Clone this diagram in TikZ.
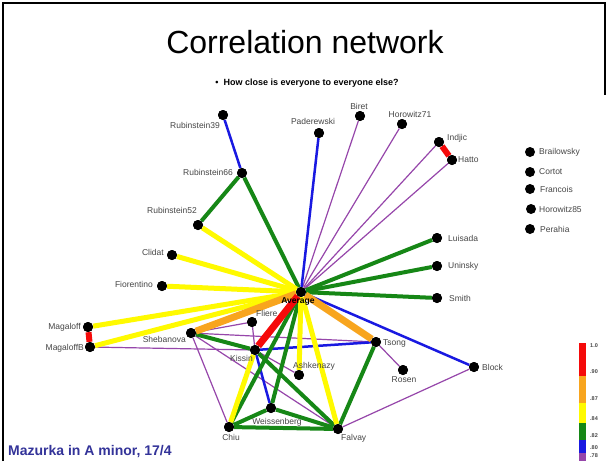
\documentclass[tikz,border=0pt]{standalone}
\usepackage{fontspec}
\setmainfont{Liberation Sans}
\definecolor{cyel}{RGB}{255,250,0}
\definecolor{cgrn}{RGB}{22,135,22}
\definecolor{cred}{RGB}{245,10,10}
\definecolor{corg}{RGB}{248,165,30}
\definecolor{cblu}{RGB}{25,25,225}
\definecolor{cpur}{RGB}{150,70,170}
\definecolor{clab}{RGB}{70,70,70}
\definecolor{cfoot}{RGB}{51,51,153}
\tikzset{
  pt/.style={circle,fill=black,minimum size=10pt,inner sep=0pt},
  lab/.style={font=\fontsize{8.5}{10}\selectfont,text=clab,inner sep=0pt},
  epur/.style={draw=cpur,line width=1.2pt},
  eblu/.style={draw=cblu,line width=2.5pt},
  egrn/.style={draw=cgrn,line width=4pt},
  eyel/.style={draw=cyel,line width=5pt},
  eorg/.style={draw=corg,line width=7pt},
  ered/.style={draw=cred,line width=7pt},
  frame/.style={draw=black,line width=2.5pt}
}
\begin{document}
\begin{tikzpicture}[x=1pt,y=-1pt]
\useasboundingbox (0,0) rectangle (609,461);
\fill[white] (0,0) rectangle (609,461);
% frame
\coordinate (f1) at (3,461);
\coordinate (f2) at (3,3);
\coordinate (f3) at (605,3);
\coordinate (f4) at (605,95);
\draw[frame] (f1) -- (f2) -- (f3) -- (f4);
% title
\node (title) at (305,42) {\fontsize{32}{36}\selectfont Correlation network};
\node (sub) at (307,83) {\fontsize{9}{11}\selectfont\bfseries \textbullet\ \ How close is everyone to everyone else?};
\node[anchor=west,text=cfoot,inner sep=0pt] (foot) at (8,451) {\fontsize{14}{16}\selectfont\bfseries Mazurka in A minor, 17/4};
% nodes
\node[pt] (avg) at (301,292) {};
\node[pt] (r39) at (223,115) {};
\node[pt] (pad) at (319,133) {};
\node[pt] (bir) at (360,116) {};
\node[pt] (h71) at (402,124) {};
\node[pt] (ind) at (439,142) {};
\node[pt] (hat) at (452,160) {};
\node[pt] (r66) at (242,173) {};
\node[pt] (r52) at (198,225) {};
\node[pt] (cli) at (172,255) {};
\node[pt] (fio) at (162,286) {};
\node[pt] (lui) at (437,238) {};
\node[pt] (uni) at (437,266) {};
\node[pt] (smi) at (437,298) {};
\node[pt] (mag) at (88,327) {};
\node[pt] (magb) at (90,347) {};
\node[pt] (she) at (191,333) {};
\node[pt] (fli) at (252,322) {};
\node[pt] (kis) at (255,350) {};
\node[pt] (tso) at (376,342) {};
\node[pt] (ros) at (403,370) {};
\node[pt] (blo) at (474,367) {};
\node[pt] (ash) at (299,375) {};
\node[pt] (wei) at (271,408) {};
\node[pt] (chi) at (229,427) {};
\node[pt] (fal) at (338,429) {};
\node[pt] (bra) at (530,152) {};
\node[pt] (cor) at (530,172) {};
\node[pt] (fra) at (530,189) {};
\node[pt] (h85) at (531,209) {};
\node[pt] (per) at (530,229) {};
% edges
\draw[epur] (avg) -- (bir);
\draw[epur] (avg) -- (h71);
\draw[epur] (avg) -- (ind);
\draw[epur] (avg) -- (hat);
\draw[epur] (magb) -- (kis);
\draw[epur] (she) -- (fli);
\draw[epur] (she) -- (tso);
\draw[epur] (fli) -- (kis);
\draw[epur] (kis) -- (ash);
\draw[epur] (she) -- (chi);
\draw[epur] (she) -- (fal);
\draw[epur] (tso) -- (ros);
\draw[epur] (blo) -- (fal);
\draw[eblu] (r39) -- (r66);
\draw[eblu] (avg) -- (pad);
\draw[eblu] (avg) -- (blo);
\draw[eblu] (kis) -- (tso);
\draw[eblu] (kis) -- (wei);
\draw[egrn] (r66) -- (r52);
\draw[egrn] (r66) -- (avg);
\draw[egrn] (avg) -- (lui);
\draw[egrn] (avg) -- (uni);
\draw[egrn] (avg) -- (smi);
\draw[egrn] (avg) -- (wei);
\draw[egrn] (avg) -- (chi);
\draw[egrn] (she) -- (kis);
\draw[egrn] (kis) -- (fal);
\draw[egrn] (chi) -- (wei);
\draw[egrn] (chi) -- (fal);
\draw[egrn] (wei) -- (fal);
\draw[egrn] (tso) -- (fal);
\draw[eyel] (avg) -- (r52);
\draw[eyel] (avg) -- (cli);
\draw[eyel] (avg) -- (fio);
\draw[eyel] (avg) -- (mag);
\draw[eyel] (avg) -- (magb);
\draw[eyel] (avg) -- (ash);
\draw[eyel] (avg) -- (fal);
\draw[eyel] (kis) -- (chi);
\draw[eorg] (avg) -- (she);
\draw[eorg] (avg) -- (tso);
\draw[ered] (avg) -- (kis);
\draw[ered,line width=6pt] (ind) -- (hat);
\draw[ered,line width=6pt] (mag) -- (magb);
% redraw dots on top
\foreach \n in {avg,r39,pad,bir,h71,ind,hat,r66,r52,cli,fio,lui,uni,smi,mag,magb,she,fli,kis,tso,ros,blo,ash,wei,chi,fal}
  \fill[black] (\n) circle (5pt);
% labels
\node[lab,anchor=east] (lr39) at (220,125) {Rubinstein39};
\node[lab,anchor=east] (lr66) at (233,172) {Rubinstein66};
\node[lab,anchor=east] (lr52) at (197,210) {Rubinstein52};
\node[lab] (lpad) at (313,121) {Paderewski};
\node[lab] (lbir) at (359,106) {Biret};
\node[lab] (lh71) at (410,114) {Horowitz71};
\node[lab,anchor=west] (lind) at (447,138) {Indjic};
\node[lab,anchor=west] (lhat) at (458,160) {Hatto};
\node[lab,anchor=west] (llui) at (448,238) {Luisada};
\node[lab,anchor=west] (luni) at (448,266) {Uninsky};
\node[lab,anchor=west] (lsmi) at (449,298) {Smith};
\node[lab,anchor=east] (lcli) at (164,252) {Clidat};
\node[lab,anchor=east] (lfio) at (153,284) {Fiorentino};
\node[lab,anchor=east] (lmag) at (81,327) {Magaloff};
\node[lab,anchor=east] (lmagb) at (84,348) {MagaloffB};
\node[lab,anchor=east] (lshe) at (186,339) {Shebanova};
\node[lab,anchor=west] (lfli) at (256,313) {Fliere};
\node[lab,anchor=east] (lkis) at (253,358) {Kissin};
\node[lab,text=black,font=\fontsize{8.5}{10}\selectfont\bfseries] (lavg) at (298,301) {Average};
\node[lab,anchor=west] (ltso) at (383,343) {Tsong};
\node[lab] (lros) at (404,380) {Rosen};
\node[lab,anchor=west] (lblo) at (482,367) {Block};
\node[lab] (lash) at (314,366) {Ashkenazy};
\node[lab] (lwei) at (277,422) {Weissenberg};
\node[lab] (lchi) at (231,437) {Chiu};
\node[lab,anchor=west] (lfal) at (341,438) {Falvay};
\node[lab,anchor=west] (lbra) at (539,152) {Brailowsky};
\node[lab,anchor=west] (lcor) at (539,172) {Cortot};
\node[lab,anchor=west] (lfra) at (540,189) {Francois};
\node[lab,anchor=west] (lh85) at (539,209) {Horowitz85};
\node[lab,anchor=west] (lper) at (540,229) {Perahia};
% legend
\fill[cred] (579,343) rectangle (586,376);
\fill[corg] (579,376) rectangle (586,403);
\fill[cyel] (579,403) rectangle (586,423);
\fill[cgrn] (579,423) rectangle (586,440);
\fill[cblu] (579,440) rectangle (586,453);
\fill[cpur] (579,453) rectangle (586,461);
\begin{scope}[every node/.style={lab,anchor=west,font=\fontsize{5.5}{6}\selectfont\bfseries}]
\node (g1) at (590,346) {1.0};
\node (g2) at (590,372) {.90};
\node (g3) at (590,399) {.87};
\node (g4) at (590,419) {.84};
\node (g5) at (590,436) {.82};
\node (g6) at (590,448) {.80};
\node (g7) at (590,456) {.78};
\end{scope}
\end{tikzpicture}
\end{document}
